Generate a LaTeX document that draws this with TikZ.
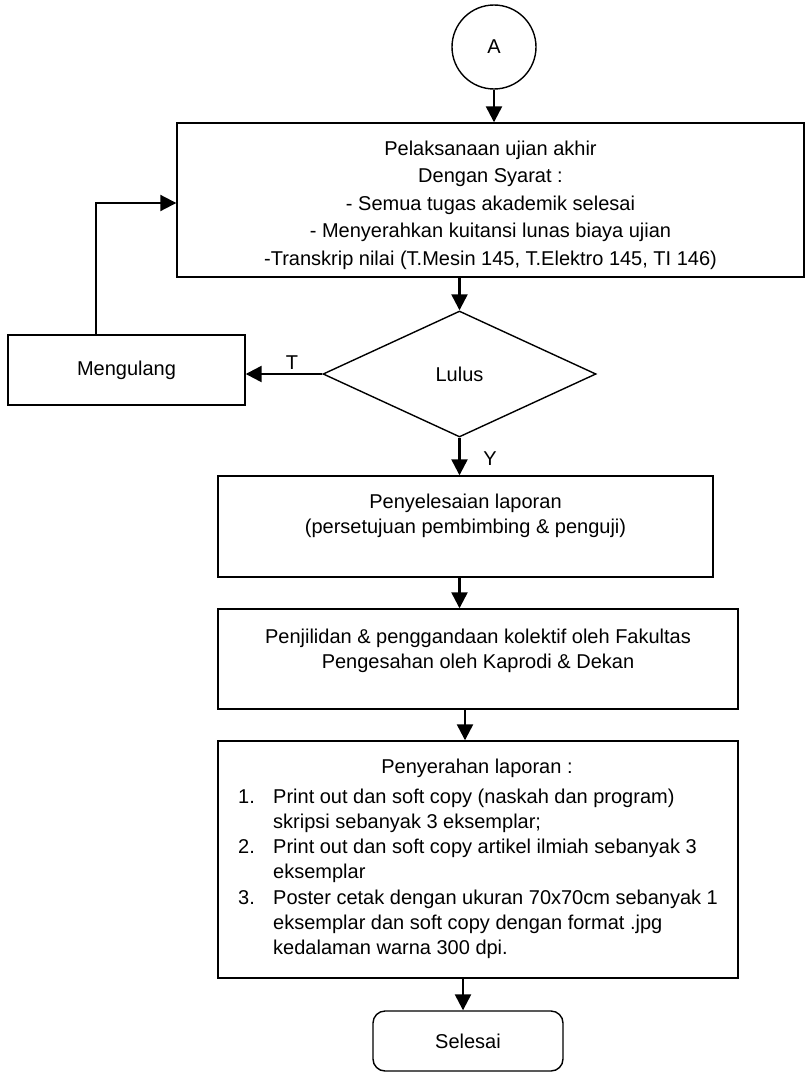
\documentclass[tikz,border=0pt]{standalone}
\usepackage{fontspec}
\setmainfont{Liberation Sans}
\usetikzlibrary{arrows.meta,shapes.geometric}
\begin{document}
\begin{tikzpicture}[x=1pt,y=-1pt,
  box/.style={draw,line width=1.4pt,rectangle,inner sep=0pt},
  arr/.style={line width=2.4pt,-{Triangle[length=16pt,width=16pt]}},
  txt/.style={inner sep=0pt,anchor=base},
  every node/.style={font=\fontsize{20}{24}\selectfont}]
\useasboundingbox (0,0) rectangle (809,1073);
% shapes
\node[draw,line width=1.4pt,circle,minimum size=84pt,inner sep=0pt] (A) at (494,47) {A};
\node[box,minimum width=627pt,minimum height=154pt] (b1) at (490.5,200) {};
\node[draw,line width=1.4pt,diamond,minimum width=273pt,minimum height=126pt,inner sep=0pt] (dia) at (459.5,374) {Lulus};
\node[box,minimum width=237pt,minimum height=70pt] (mg) at (126.5,370) {Mengulang};
\node[box,minimum width=495pt,minimum height=101pt] (b2) at (465.5,526.5) {};
\node[box,minimum width=520pt,minimum height=100pt] (b3) at (478,659) {};
\node[box,minimum width=520pt,minimum height=237pt] (b4) at (478,859.5) {};
\node[box,rounded corners=12pt,minimum width=190pt,minimum height=60pt] (sl) at (468,1041) {Selesai};
% texts
\node[txt] (t1) at (490.5,155) {\fontsize{20}{27.5}\selectfont\begin{tabular}[t]{@{}c@{}}
Pelaksanaan ujian akhir\\
Dengan Syarat :\\
- Semua tugas akademik selesai\\
- Menyerahkan kuitansi lunas biaya ujian\\
-Transkrip nilai (T.Mesin 145, T.Elektro 145, TI 146)
\end{tabular}};
\node[txt] (t2) at (465.5,508) {\fontsize{20}{25}\selectfont\begin{tabular}[t]{@{}c@{}}
Penyelesaian laporan\\
(persetujuan pembimbing \& penguji)
\end{tabular}};
\node[txt] (t3) at (478,643) {\fontsize{20}{25}\selectfont\begin{tabular}[t]{@{}c@{}}
Penjilidan \& penggandaan kolektif oleh Fakultas\\
Pengesahan oleh Kaprodi \& Dekan
\end{tabular}};
\node[txt] (t4) at (477,773) {Penyerahan laporan :};
\node[txt,anchor=base west] (t5) at (238,803) {\fontsize{20}{25.3}\selectfont\begin{tabular}[t]{@{}p{35pt}@{}l@{}}
1. & Print out dan soft copy (naskah dan program)\\
 & skripsi sebanyak 3 eksemplar;\\
2. & Print out dan soft copy artikel ilmiah sebanyak 3\\
 & eksemplar\\
3. & Poster cetak dengan ukuran 70x70cm sebanyak 1\\
 & eksemplar dan soft copy dengan format .jpg\\
 & kedalaman warna 300 dpi.
\end{tabular}};
\node[txt] (lT) at (292,369) {T};
\node[txt] (lY) at (490,465) {Y};
% connectors
\coordinate (lp) at (96,203);
\coordinate (c34) at (465,0);
\coordinate (c4s) at (463,0);
\draw[arr] (A.south) -- (A.south |- b1.north);
\draw[arr] (b1.south -| dia.north) -- (dia.north);
\draw[arr] (dia.west) -- (dia.west -| mg.east);
\draw[arr,line width=2pt] (mg.north -| lp) -- (lp) -- (lp -| b1.west);
\draw[arr] (dia.south) -- (dia.south |- b2.north);
\draw[arr] (b2.south -| dia.south) -- (b3.north -| dia.south);
\draw[arr] (b3.south -| c34) -- (b4.north -| c34);
\draw[arr] (b4.south -| c4s) -- (sl.north -| c4s);
\end{tikzpicture}
\end{document}
